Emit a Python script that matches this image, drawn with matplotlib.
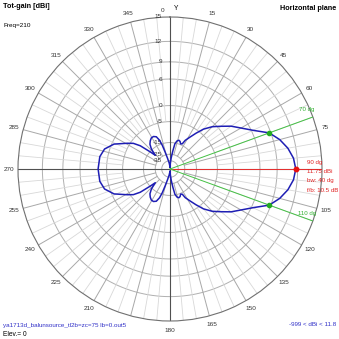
import numpy as np
import matplotlib
matplotlib.use("Agg")
import matplotlib.pyplot as plt

plt.rcParams['font.family'] = ['Liberation Sans', 'DejaVu Sans']

# pattern: azimuth (deg, clockwise from north) and gain (dBi)
azimuth = [0, 3, 6, 9, 11, 14, 17, 20, 23, 26, 28, 32, 36, 40, 45, 50, 55, 60, 65, 70,
           75, 80, 85, 90, 95, 100, 105, 110, 115, 120, 125, 130, 135, 140, 144, 148,
           152, 154, 157, 160, 163, 166, 169, 171, 174, 177,
           180, 184, 188, 193, 196, 198, 200, 203, 207, 211, 215, 219, 223, 227, 229,
           232, 235, 239, 246, 253, 260, 270, 280, 287, 294, 301, 305, 308, 311, 313,
           317, 321, 325, 329, 333, 337, 340, 342, 344, 347, 352, 356, 360]
gain = [-60, -42, -30, -21, -15.5, -13.5, -12.8, -13.2, -14.5, -14.0, -11.5, -9.0, -6.2,
        -3.4, -1.0, 0.8, 2.8, 4.4, 6.3, 8.75,
        10.0, 10.9, 11.5, 11.75, 11.5, 10.9, 10.0, 8.75, 6.3, 4.4, 2.8, 0.8, -1.0, -3.4,
        -6.2, -9.0, -11.5, -14.0, -14.5, -13.2, -12.8, -13.5, -15.5, -21, -30, -42,
        -60, -50, -40, -30, -22, -16, -12.5, -10.2, -9.5, -9.6, -10.5, -11.8, -14.5,
        -19.7, -15.4, -8.9, -6.0, -4.1, -0.6, 1.3, 2.0, 2.15, 2.0, 1.3, -0.6, -4.1,
        -6.0, -8.9, -15.4, -19.7, -14.5, -11.8, -10.5, -9.6, -9.5, -10.2, -12.5, -16,
        -22, -30, -40, -50, -60]

ring_db = [15, 12, 9, 6, 0, -5, -15, -25, -35]
ring_labels = ['15', '12', '9', '6', '0', '-5', '-15', '-25', '-35']
# 0, 90 and 195 are covered by other text in the original
angle_ticks = [a for a in range(0, 360, 15) if a not in (0, 90, 195)]

max_az = 90
max_gain = 11.75
bw_edges = [70, 110]
bw_gain = 8.75
info_lines = ['90 dg', '11.75 dBi', 'bw: 40 dg', 'f/b: 10.5 dB']


def arrl(db):
    # ARRL log scale: 0.89 per 2 dB below the outer ring
    return 0.89 ** ((15 - np.asarray(db, dtype=float)) / 2)


W = 339
fig = plt.figure(figsize=(3.39, 3.39), dpi=100)
cx, cy, R = 170, 169, 152
ax = fig.add_axes([(cx - R) / W, (W - cy - R) / W, 2 * R / W, 2 * R / W],
                  projection='polar')
ax.set_theta_zero_location('N')
ax.set_theta_direction(-1)
ax.set_ylim(0, 1)
ax.set_xticks([])
ax.set_yticks([])
ax.grid(False)
ax.spines['polar'].set_color('#707070')
ax.spines['polar'].set_linewidth(0.8)

full = np.linspace(0, 2 * np.pi, 361)
for d in ring_db[1:]:
    ax.plot(full, np.full_like(full, arrl(d)), color='#b0b0b0', lw=0.7, zorder=1)

for a in range(0, 360, 5):
    t = np.radians(a)
    if a % 90 == 0:
        ax.plot([t, t], [0, 1], color='#505050', lw=0.8, zorder=2)
    elif a % 15 == 0:
        ax.plot([t, t], [arrl(-25), 1], color='#a8a8a8', lw=0.7, zorder=1)
    else:
        ax.plot([t, t], [arrl(-5), 1], color='#d8d8d8', lw=0.6, zorder=1)

for d, lbl in zip(ring_db, ring_labels):
    ax.annotate(lbl, xy=(0, arrl(d)), xytext=(-8, 0), textcoords='offset pixels',
                ha='right', va='center', fontsize=4.6, color='#333333')

for a in angle_ticks:
    ax.text(np.radians(a), 1.06, str(a), ha='center', va='center',
            fontsize=4.6, color='#333333', clip_on=False)

# marker lines for max and -3 dB points
ax.plot([np.radians(max_az)] * 2, [0, 1], color='#e83030', lw=0.7, zorder=3)
for a in bw_edges:
    ax.plot([np.radians(a)] * 2, [0, 1], color='#44c044', lw=0.7, zorder=3)

th = np.radians(azimuth)
ax.plot(th, arrl(gain), color='#1e1eb4', lw=1.1, zorder=4)

ax.plot(np.radians(max_az), arrl(max_gain), 'o', color='#e81010', ms=3.2, zorder=5)
for a in bw_edges:
    ax.plot(np.radians(a), arrl(bw_gain), 'o', color='#22aa22', ms=3.0, zorder=5)


def px(x, y):
    return x / W, 1 - y / W


fig.text(*px(3, 7), 'Tot-gain [dBi]', fontsize=5.2, fontweight='bold', va='center')
fig.text(*px(3, 25), 'Freq=210', fontsize=4.6, va='center')
fig.text(*px(336, 8), 'Horizontal plane', fontsize=5.2, fontweight='bold',
         ha='right', va='center')
fig.text(*px(176, 9), 'Y', fontsize=4.8, ha='center', va='center')
fig.text(*px(163, 10), '0', fontsize=4.6, ha='center', va='center', color='#333333')

fig.text(*px(307, 110), '70 dg', fontsize=4.4, color='#30b030', ha='center', va='center')
fig.text(*px(307, 213), '110 dg', fontsize=4.4, color='#30b030', ha='center', va='center')
for i, line in enumerate(info_lines):
    fig.text(*px(307, 162 + 9.4 * i), line, fontsize=4.4, color='#e02020', va='center')

fig.text(*px(3, 325), 'ya1713d_balunsource_tl2b=zc=75 lb=0.out5', fontsize=4.5,
         color='#3030c8', va='center')
fig.text(*px(336, 325), '-999 < dBi < 11.8', fontsize=4.5, color='#3030c8',
         ha='right', va='center')
fig.text(*px(3, 335), 'Elev.= 0', fontsize=4.8, va='center')

fig.savefig('out.png', dpi=100, facecolor='white')
